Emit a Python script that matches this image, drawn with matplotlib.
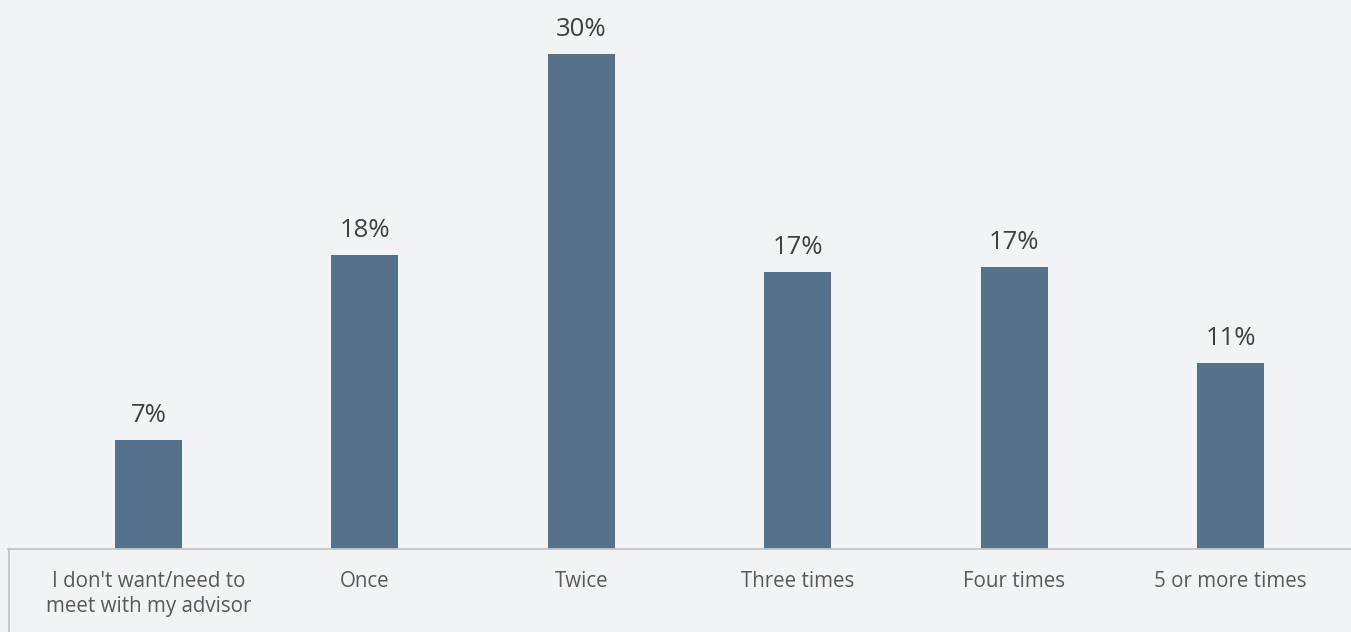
import matplotlib
matplotlib.use("Agg")
import matplotlib.pyplot as plt
from matplotlib.lines import Line2D

# meeting frequency survey results (percent of respondents)
categories = ["I don't want/need to\nmeet with my advisor", "Once", "Twice",
              "Three times", "Four times", "5 or more times"]
shares = [6.6, 17.8, 30.0, 16.8, 17.1, 11.3]

bg = "#F2F3F5"
bar_color = "#56718A"

plt.rcParams['font.family'] = ['Open Sans', 'DejaVu Sans']

W, H = 1351, 632
fig = plt.figure(figsize=(W / 100, H / 100), dpi=100, facecolor=bg)

# axes placed in pixel terms: baseline at y=549, spanning from x=8 to the right edge
base_y = 549
ax = fig.add_axes([8 / W, (H - base_y) / H, (W - 8) / W, base_y / H])
ax.set_facecolor(bg)

x = list(range(len(categories)))
ax.bar(x, shares, width=0.31, color=bar_color, zorder=2)

for xi, v in zip(x, shares):
    ax.annotate(f"{v:.0f}%", (xi, v), xytext=(0, 8.5), textcoords="offset points",
                ha="center", va="bottom", fontsize=18.5, color="#404040")

ax.set_xlim(-0.649, 5.557)
ax.set_ylim(0, 549 / 16.5)

ax.set_xticks(x)
ax.set_xticklabels(categories, fontsize=14.8, color="#595959", linespacing=1.25)
ax.tick_params(axis="x", length=0, pad=16)
ax.set_yticks([])

for side in ["top", "right", "left"]:
    ax.spines[side].set_visible(False)
ax.spines["bottom"].set_color("#C4C4C4")
ax.spines["bottom"].set_linewidth(1.3)

# short vertical rule at the left end of the category axis
fig.add_artist(Line2D([8.5 / W, 8.5 / W], [0, (H - base_y) / H],
                      transform=fig.transFigure, color="#C4C4C4", linewidth=1.3))

fig.savefig("out.png", dpi=100, facecolor=bg)
